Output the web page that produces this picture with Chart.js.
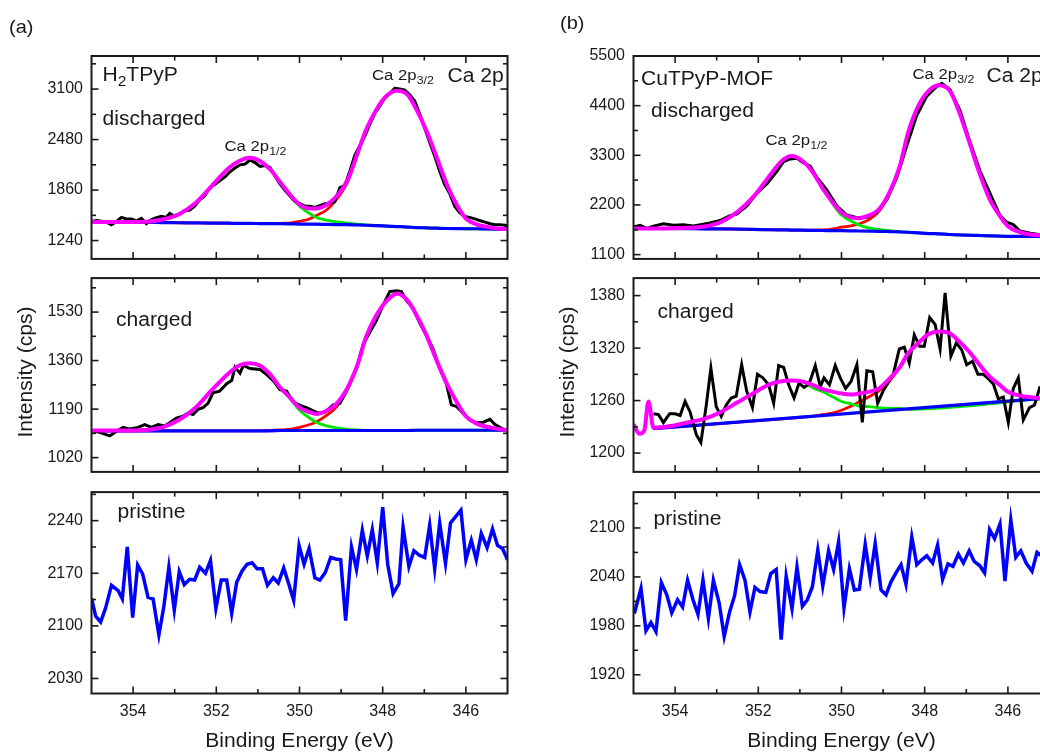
<!DOCTYPE html>
<html>
<head>
<meta charset="utf-8">
<script src="https://cdn.jsdelivr.net/npm/chart.js@4.4.0/dist/chart.umd.min.js"></script>
<style>
html, body { margin: 0; padding: 0; background: #fff; overflow: hidden; }
#fig { position: relative; width: 1040px; height: 753px; overflow: hidden; background: #fff; }
#fig canvas { position: absolute; }
</style>
</head>
<body>
<div id="fig"></div>
<script>
// ---- axis ticks ----
const xTicks = [354, 352, 350, 348, 346];
const xMinor = [353, 351, 349, 347];
const ltTicks = [1240, 1860, 2480, 3100];
const ltMinor = [1550, 2170, 2790, 3410];
const lmTicks = [1020, 1190, 1360, 1530];
const lmMinor = [1105, 1275, 1445, 1615];
const lbTicks = [2030, 2100, 2170, 2240];
const lbMinor = [2065, 2135, 2205, 2275];
const rtTicks = [1100, 2200, 3300, 4400, 5500];
const rtMinor = [1650, 2750, 3850, 4950];
const rmTicks = [1200, 1260, 1320, 1380];
const rmMinor = [1230, 1290, 1350];
const rbTicks = [1920, 1980, 2040, 2100];
const rbMinor = [1950, 2010, 2070, 2130];

// ---- energy grid for the fitted curves ----
const fitE = [355.0, 354.5, 353.7, 353.3, 352.9, 352.5, 352.1, 351.7, 351.45, 351.2, 350.95, 350.7, 350.45, 350.2, 350.0, 349.75, 349.6, 349.35, 349.1, 348.85, 348.6, 348.4, 348.15, 347.9, 347.65, 347.4, 347.2, 346.95, 346.7, 346.45, 346.2, 346.0, 345.75, 345.5, 345.25, 345.0];

// ---- (a) H2TPyP discharged ----
const ltFit = [1467, 1467, 1470, 1498, 1564, 1701, 1916, 2131, 2217, 2256, 2217, 2111, 1947, 1787, 1682, 1635, 1635, 1680, 1790, 1975, 2320, 2600, 2850, 3020, 3080, 3030, 2860, 2590, 2260, 1920, 1660, 1510, 1440, 1408, 1388, 1381];
const ltBg = [1467, 1465, 1463, 1461, 1459, 1457, 1455, 1453, 1451, 1451, 1449, 1447, 1447, 1445, 1443, 1443, 1441, 1439, 1437, 1435, 1431, 1428, 1424, 1418, 1412, 1406, 1400, 1396, 1392, 1388, 1386, 1385, 1385, 1383, 1381, 1381];
const ltP12 = [1467, 1467, 1470, 1498, 1564, 1701, 1916, 2131, 2217, 2256, 2217, 2111, 1947, 1779, 1662, 1570, 1525, 1490, 1470, 1455, 1443, 1431, 1424, 1418, 1412, 1406, 1400, 1396, 1392, 1388, 1386, 1385, 1385, 1383, 1381, 1381];
const ltP32 = [1467, 1465, 1463, 1461, 1459, 1457, 1455, 1453, 1451, 1451, 1450, 1449, 1452, 1458, 1475, 1508, 1547, 1615, 1752, 1955, 2308, 2600, 2850, 3020, 3080, 3030, 2860, 2590, 2260, 1920, 1660, 1510, 1440, 1408, 1388, 1381];
const ltRawE = [355.00, 354.88, 354.76, 354.64, 354.52, 354.40, 354.28, 354.16, 354.04, 353.92, 353.80, 353.68, 353.56, 353.44, 353.32, 353.20, 353.12, 353.00, 352.88, 352.76, 352.64, 352.52, 352.40, 352.28, 352.16, 352.04, 351.92, 351.79, 351.67, 351.55, 351.43, 351.31, 351.19, 351.07, 350.95, 350.83, 350.71, 350.59, 350.47, 350.35, 350.23, 350.11, 349.99, 349.87, 349.75, 349.63, 349.51, 349.39, 349.27, 349.15, 349.03, 348.91, 348.79, 348.67, 348.55, 348.43, 348.31, 348.19, 348.07, 347.95, 347.83, 347.71, 347.59, 347.47, 347.35, 347.23, 347.11, 346.99, 346.87, 346.75, 346.63, 346.51, 346.39, 346.27, 346.15, 346.03, 345.91, 345.79, 345.67, 345.54, 345.42, 345.30, 345.18, 345.06, 345.00];
const ltRaw = [1474, 1486, 1478, 1467, 1435, 1474, 1525, 1506, 1506, 1482, 1514, 1447, 1498, 1521, 1537, 1525, 1572, 1537, 1564, 1603, 1615, 1662, 1740, 1787, 1889, 1928, 1975, 2021, 2084, 2131, 2170, 2178, 2229, 2197, 2150, 2162, 2139, 2033, 1936, 1857, 1787, 1721, 1693, 1662, 1662, 1646, 1670, 1693, 1693, 1721, 1889, 1916, 2092, 2287, 2404, 2522, 2670, 2803, 2893, 2991, 3049, 3108, 3100, 3088, 3030, 2952, 2795, 2619, 2444, 2279, 2092, 1928, 1818, 1662, 1584, 1537, 1525, 1506, 1486, 1467, 1447, 1435, 1435, 1428, 1420];

// ---- (a) H2TPyP charged ----
const lmFit = [1115, 1115, 1117, 1126, 1152, 1195, 1258, 1316, 1343, 1351, 1343, 1311, 1263, 1226, 1195, 1179, 1173, 1184, 1210, 1263, 1348, 1443, 1520, 1570, 1595, 1570, 1523, 1449, 1359, 1277, 1210, 1165, 1140, 1128, 1121, 1116];
const lmBg = [1114, 1114, 1114, 1114, 1114, 1114, 1114, 1114, 1114, 1114, 1114, 1114, 1115, 1115, 1115, 1115, 1115, 1115, 1115, 1115, 1115, 1115, 1115, 1115, 1115, 1115, 1116, 1116, 1116, 1116, 1116, 1116, 1116, 1116, 1116, 1116];
const lmP12 = [1115, 1115, 1117, 1126, 1152, 1195, 1258, 1316, 1343, 1351, 1343, 1311, 1263, 1222, 1186, 1158, 1144, 1131, 1124, 1119, 1117, 1115, 1115, 1115, 1115, 1115, 1116, 1116, 1116, 1116, 1116, 1116, 1116, 1116, 1116, 1116];
const lmP32 = [1114, 1114, 1114, 1114, 1114, 1114, 1114, 1114, 1114, 1114, 1114, 1115, 1117, 1120, 1126, 1136, 1145, 1168, 1200, 1259, 1348, 1443, 1520, 1570, 1595, 1570, 1523, 1449, 1359, 1277, 1210, 1165, 1140, 1128, 1121, 1116];
const lmRawE = [355.00, 354.84, 354.56, 354.40, 354.24, 354.08, 353.88, 353.72, 353.56, 353.40, 353.24, 353.12, 352.96, 352.80, 352.68, 352.56, 352.44, 352.32, 352.20, 352.08, 351.92, 351.75, 351.63, 351.55, 351.43, 351.35, 351.19, 350.95, 350.79, 350.63, 350.47, 350.31, 350.15, 349.99, 349.83, 349.67, 349.55, 349.39, 349.19, 349.03, 348.91, 348.79, 348.63, 348.47, 348.31, 348.15, 347.99, 347.83, 347.67, 347.55, 347.43, 347.27, 347.11, 346.95, 346.79, 346.63, 346.47, 346.35, 346.23, 346.07, 345.91, 345.75, 345.58, 345.42, 345.30, 345.18, 345.00];
const lmRaw = [1115, 1110, 1096, 1112, 1126, 1120, 1126, 1136, 1126, 1136, 1131, 1142, 1158, 1165, 1176, 1171, 1189, 1195, 1210, 1247, 1253, 1279, 1290, 1337, 1316, 1343, 1332, 1329, 1311, 1290, 1258, 1253, 1216, 1203, 1195, 1184, 1176, 1179, 1205, 1210, 1242, 1279, 1332, 1417, 1459, 1501, 1554, 1602, 1605, 1602, 1570, 1544, 1491, 1449, 1401, 1332, 1279, 1205, 1200, 1176, 1152, 1142, 1144, 1154, 1136, 1126, 1112];

// ---- (a) H2TPyP pristine ----
const lbE = [355.00, 354.90, 354.78, 354.66, 354.52, 354.36, 354.26, 354.14, 354.01, 353.89, 353.77, 353.64, 353.52, 353.38, 353.26, 353.14, 353.01, 352.89, 352.77, 352.64, 352.52, 352.40, 352.26, 352.14, 352.01, 351.88, 351.75, 351.63, 351.51, 351.38, 351.26, 351.14, 351.02, 350.89, 350.77, 350.63, 350.51, 350.38, 350.26, 350.14, 350.01, 349.89, 349.77, 349.63, 349.51, 349.38, 349.25, 349.13, 349.01, 348.89, 348.75, 348.63, 348.49, 348.37, 348.25, 348.13, 348.00, 347.88, 347.75, 347.61, 347.51, 347.37, 347.25, 347.12, 346.99, 346.87, 346.75, 346.63, 346.49, 346.37, 346.12, 346.00, 345.87, 345.75, 345.63, 345.49, 345.36, 345.24, 345.12, 345.00];
const lb = [2137, 2113, 2105, 2124, 2154, 2147, 2136, 2205, 2111, 2181, 2169, 2138, 2136, 2088, 2126, 2178, 2121, 2172, 2155, 2162, 2161, 2178, 2170, 2187, 2123, 2161, 2161, 2117, 2158, 2173, 2182, 2184, 2176, 2176, 2154, 2164, 2157, 2177, 2156, 2134, 2207, 2182, 2203, 2164, 2161, 2171, 2191, 2189, 2188, 2107, 2205, 2175, 2227, 2193, 2228, 2184, 2258, 2182, 2143, 2156, 2231, 2179, 2200, 2194, 2191, 2234, 2176, 2237, 2183, 2237, 2254, 2188, 2214, 2188, 2223, 2204, 2229, 2207, 2203, 2188];

// ---- (b) CuTPyP-MOF discharged ----
const rtFit = [1679, 1679, 1694, 1722, 1821, 2047, 2400, 2881, 3163, 3284, 3185, 2937, 2563, 2245, 2033, 1920, 1905, 1962, 2103, 2471, 3057, 3799, 4400, 4732, 4852, 4732, 4329, 3658, 2951, 2351, 1962, 1729, 1609, 1552, 1531, 1517];
const rtBg = [1679, 1679, 1676, 1672, 1672, 1665, 1658, 1651, 1648, 1644, 1641, 1637, 1634, 1630, 1630, 1626, 1623, 1619, 1616, 1609, 1602, 1595, 1581, 1567, 1559, 1545, 1538, 1531, 1524, 1517, 1510, 1506, 1503, 1503, 1503, 1503];
const rtP12 = [1679, 1679, 1694, 1722, 1821, 2047, 2400, 2881, 3163, 3284, 3185, 2937, 2563, 2209, 1976, 1835, 1764, 1694, 1658, 1630, 1609, 1595, 1581, 1567, 1559, 1545, 1538, 1531, 1524, 1517, 1510, 1506, 1503, 1503, 1503, 1503];
const rtP32 = [1679, 1679, 1676, 1672, 1672, 1665, 1658, 1651, 1648, 1644, 1641, 1640, 1645, 1670, 1707, 1740, 1775, 1870, 2055, 2450, 3057, 3799, 4400, 4732, 4852, 4732, 4329, 3658, 2951, 2351, 1962, 1729, 1609, 1552, 1531, 1517];
const rtRawE = [355.00, 354.84, 354.68, 354.52, 354.28, 354.04, 353.80, 353.56, 353.32, 353.16, 352.92, 352.68, 352.52, 352.28, 352.04, 351.79, 351.55, 351.39, 351.23, 351.07, 350.91, 350.75, 350.59, 350.35, 350.11, 349.87, 349.63, 349.39, 349.15, 348.91, 348.67, 348.43, 348.19, 347.95, 347.71, 347.59, 347.39, 347.15, 346.91, 346.67, 346.43, 346.19, 346.03, 345.87, 345.71, 345.46, 345.22, 345.00];
const rtRaw = [1715, 1750, 1679, 1729, 1785, 1750, 1764, 1736, 1771, 1800, 1856, 1962, 1997, 2174, 2457, 2669, 2951, 3163, 3220, 3234, 3128, 3057, 2810, 2527, 2174, 1976, 1920, 1927, 2033, 2315, 2810, 3517, 4188, 4612, 4824, 4895, 4753, 4294, 3587, 2951, 2457, 1962, 1821, 1764, 1623, 1573, 1538, 1531];

// ---- (b) CuTPyP-MOF charged ----
const rmFitE = [355.00, 354.86, 354.74, 354.64, 354.52, 354.1, 353.7, 353.3, 352.9, 352.5, 352.1, 351.7, 351.45, 351.2, 350.95, 350.7, 350.45, 350.2, 350.0, 349.75, 349.6, 349.35, 349.1, 348.85, 348.6, 348.4, 348.15, 347.9, 347.65, 347.4, 347.2, 346.95, 346.7, 346.45, 346.2, 346.0, 345.75, 345.5, 345.25, 345.0];
const rmFit = [1233, 1222, 1226, 1259, 1229, 1231, 1235, 1239, 1247, 1258, 1269, 1279, 1282, 1283, 1282, 1278, 1273, 1270, 1268, 1267, 1268, 1270, 1274, 1285, 1298, 1314, 1326, 1336, 1339, 1337, 1329, 1317, 1302, 1288, 1278, 1270, 1266, 1264, 1263, 1262];
const rmBgE = [354.52, 345.0];
const rmBg = [1228, 1263];
const rmP12E = [354.52, 354.1, 353.7, 353.3, 352.9, 352.5, 352.1, 351.7, 351.45, 351.2, 350.95, 350.7, 350.45, 350.2, 350.0, 349.75, 349.6, 349.35, 349.1, 348.85, 348.6, 348.4, 345.0];
const rmP12 = [1229, 1231, 1235, 1239, 1247, 1258, 1269, 1279, 1282, 1283, 1282, 1275, 1270, 1264, 1259, 1256, 1254, 1253, 1252, 1251, 1251, 1250, 1263];
const rmP32E = [354.52, 351.2, 350.95, 350.7, 350.45, 350.2, 350.0, 349.75, 349.6, 349.35, 349.1, 348.85, 348.6, 348.4, 348.15, 347.9, 347.65, 347.4, 347.2, 346.95, 346.7, 346.45, 346.2, 346.0, 345.75, 345.5, 345.25, 345.0];
const rmP32 = [1228, 1240, 1241, 1242, 1244, 1246, 1249, 1254, 1258, 1264, 1271, 1282, 1298, 1314, 1326, 1336, 1339, 1337, 1329, 1317, 1302, 1288, 1278, 1270, 1266, 1264, 1263, 1263];
const rmRawE = [354.52, 354.40, 354.28, 354.13, 354.00, 353.88, 353.76, 353.64, 353.49, 353.38, 353.25, 353.14, 353.01, 352.89, 352.77, 352.65, 352.53, 352.40, 352.28, 352.14, 352.02, 351.89, 351.75, 351.63, 351.51, 351.39, 351.27, 351.14, 351.02, 350.90, 350.78, 350.63, 350.51, 350.42, 350.29, 350.15, 350.03, 349.90, 349.77, 349.63, 349.50, 349.39, 349.25, 349.13, 348.99, 348.87, 348.75, 348.61, 348.49, 348.37, 348.25, 348.12, 348.01, 347.88, 347.75, 347.63, 347.51, 347.37, 347.24, 347.11, 346.99, 346.85, 346.72, 346.59, 346.47, 346.35, 346.23, 346.11, 345.99, 345.87, 345.75, 345.63, 345.48, 345.36, 345.24, 345.12, 345.00];
const rmRaw = [1245, 1244, 1235, 1245, 1245, 1243, 1259, 1247, 1221, 1212, 1255, 1297, 1253, 1242, 1255, 1263, 1265, 1301, 1271, 1252, 1290, 1286, 1278, 1257, 1300, 1298, 1278, 1263, 1280, 1275, 1279, 1300, 1276, 1286, 1278, 1300, 1286, 1274, 1282, 1301, 1235, 1294, 1293, 1257, 1272, 1281, 1291, 1319, 1321, 1303, 1335, 1322, 1322, 1355, 1347, 1319, 1383, 1311, 1326, 1318, 1301, 1305, 1290, 1290, 1285, 1279, 1262, 1264, 1235, 1274, 1286, 1238, 1252, 1255, 1274, 1268, 1262];

// ---- (b) CuTPyP-MOF pristine ----
const rbE = [354.98, 354.82, 354.70, 354.58, 354.46, 354.33, 354.20, 354.08, 353.94, 353.82, 353.70, 353.57, 353.45, 353.33, 353.20, 353.08, 352.94, 352.82, 352.69, 352.57, 352.45, 352.32, 352.20, 352.08, 351.96, 351.82, 351.70, 351.57, 351.45, 351.33, 351.19, 351.07, 350.94, 350.82, 350.70, 350.57, 350.45, 350.31, 350.19, 350.07, 349.94, 349.81, 349.69, 349.57, 349.43, 349.31, 349.19, 349.05, 348.93, 348.81, 348.69, 348.57, 348.45, 348.31, 348.19, 348.07, 347.95, 347.81, 347.69, 347.57, 347.44, 347.32, 347.19, 347.07, 346.93, 346.81, 346.68, 346.56, 346.44, 346.32, 346.19, 346.07, 345.93, 345.81, 345.69, 345.56, 345.42, 345.30, 345.22, 345.10, 345.00];
const rb = [1995, 2026, 1974, 1984, 1973, 2033, 2018, 1996, 2012, 2003, 2036, 2012, 1994, 2036, 1989, 2036, 2008, 1967, 1997, 2017, 2055, 2036, 1997, 2027, 2022, 2021, 2044, 2049, 1963, 2041, 2001, 2052, 2004, 2012, 2028, 2073, 2029, 2072, 2049, 2083, 2002, 2050, 2024, 2025, 2080, 2039, 2081, 2024, 2018, 2034, 2045, 2055, 2031, 2089, 2055, 2061, 2066, 2057, 2079, 2037, 2056, 2053, 2068, 2057, 2072, 2059, 2054, 2045, 2098, 2087, 2105, 2035, 2110, 2064, 2072, 2057, 2047, 2070, 2067, 2060, 2065];

// ---- styling ----
const FONT = '"Liberation Sans", Arial, Helvetica, sans-serif';
const INK = '#1a1a1a';
const MAGENTA = '#ff00ff';
const BLUE = '#0000ff';
const GREEN = '#00e600';
const RED = '#ff0000';
const STRETCH = 1.08;

function pts(E, V) {
    return E.map((e, i) => ({ x: e, y: V[i] }));
}

function line(E, V, color, width, smooth) {
    return {
        data: pts(E, V),
        borderColor: color,
        borderWidth: width,
        pointRadius: 0,
        fill: false,
        tension: 0,
        cubicInterpolationMode: smooth ? 'monotone' : 'default'
    };
}

// first dataset is drawn on top
function fitSet(fitX, fit, bgX, bg, p12X, p12, p32X, p32, rawX, raw) {
    return [
        line(fitX, fit, MAGENTA, 4, true),
        line(rawX, raw, '#000', 3, false),
        line(bgX, bg, BLUE, 3.2, true),
        line(p12X, p12, GREEN, 2.8, true),
        line(p32X, p32, RED, 2.8, true)
    ];
}

function sub(main, s) { return [[main], [s, 'sub']]; }

const COLS = [0, 542];
const ROWS = [
    { canvasTop: 0, height: 277, top: 56, bottom: 268.5, xh: 0 },
    { canvasTop: 260, height: 230, top: 268.5, bottom: 482.5, xh: 0 },
    { canvasTop: 474, height: 279, top: 482.5, bottom: 693.5, xh: 59.5 }
];

const panels = [
    { col: 0, row: 0, y: [1015, 3506], ticks: ltTicks, minor: ltMinor,
      datasets: fitSet(fitE, ltFit, fitE, ltBg, fitE, ltP12, fitE, ltP32, ltRawE, ltRaw),
      labels: [
          { parts: [['(a)']], x: 9, y: 33, size: 18.5 },
          { parts: [['H'], ['2', 'sub'], ['TPyP']], x: 102.5, y: 80.5, size: 19.5 },
          { parts: [['discharged']], x: 102.5, y: 125, size: 19.5 },
          { parts: sub('Ca 2p', '1/2'), x: 224.5, y: 150.5, size: 15.5 },
          { parts: sub('Ca 2p', '3/2'), x: 372, y: 79.5, size: 15.5 },
          { parts: [['Ca 2p']], x: 447.5, y: 82, size: 19.5 }
      ] },
    { col: 0, row: 1, y: [970, 1649], ticks: lmTicks, minor: lmMinor,
      datasets: fitSet(fitE, lmFit, fitE, lmBg, fitE, lmP12, fitE, lmP32, lmRawE, lmRaw),
      labels: [
          { parts: [['charged']], x: 116, y: 325.5, size: 19.5 },
          { parts: [['Intensity (cps)']], x: 32, y: 372, size: 19.5, rot: true, center: true }
      ] },
    { col: 0, row: 2, y: [2010, 2278], ticks: lbTicks, minor: lbMinor,
      datasets: [line(lbE, lb, BLUE, 3.5, false)],
      labels: [
          { parts: [['pristine']], x: 117.5, y: 518, size: 19.5 },
          { parts: [['Binding Energy (eV)']], x: 299.5, y: 746.5, size: 19.5, center: true }
      ] },
    { col: 1, row: 0, y: [1005, 5500], ticks: rtTicks, minor: rtMinor,
      datasets: fitSet(fitE, rtFit, fitE, rtBg, fitE, rtP12, fitE, rtP32, rtRawE, rtRaw),
      labels: [
          { parts: [['(b)']], x: 560, y: 28.5, size: 18.5 },
          { parts: [['CuTPyP-MOF']], x: 641, y: 85, size: 19.5 },
          { parts: [['discharged']], x: 651, y: 117, size: 19.5 },
          { parts: sub('Ca 2p', '1/2'), x: 765.5, y: 144.5, size: 15.5 },
          { parts: sub('Ca 2p', '3/2'), x: 912.5, y: 78.5, size: 15.5 },
          { parts: [['Ca 2p']], x: 986.5, y: 82, size: 19.5 }
      ] },
    { col: 1, row: 1, y: [1178.5, 1400], ticks: rmTicks, minor: rmMinor,
      datasets: fitSet(rmFitE, rmFit, rmBgE, rmBg, rmP12E, rmP12, rmP32E, rmP32, rmRawE, rmRaw),
      labels: [
          { parts: [['charged']], x: 657.5, y: 318, size: 19.5 },
          { parts: [['Intensity (cps)']], x: 574, y: 372, size: 19.5, rot: true, center: true }
      ] },
    { col: 1, row: 2, y: [1897, 2144], ticks: rbTicks, minor: rbMinor,
      datasets: [line(rbE, rb, BLUE, 3.5, false)],
      labels: [
          { parts: [['pristine']], x: 653.5, y: 524.5, size: 19.5 },
          { parts: [['Binding Energy (eV)']], x: 841.5, y: 746.5, size: 19.5, center: true }
      ] }
];

function drawLabel(ctx, l) {
    ctx.save();
    ctx.translate(l.x, l.y);
    if (l.rot) ctx.rotate(-Math.PI / 2);
    ctx.scale(STRETCH, 1);
    ctx.textAlign = 'left';
    ctx.textBaseline = 'alphabetic';
    let total = 0;
    const segs = l.parts.map(([t, kind]) => {
        const s = kind ? l.size * 0.74 : l.size;
        ctx.font = `${s}px ${FONT}`;
        const w = ctx.measureText(t).width;
        total += w;
        return { t, s, kind, w };
    });
    let cx = l.center ? -total / 2 : 0;
    for (const g of segs) {
        ctx.font = `${g.s}px ${FONT}`;
        ctx.fillText(g.t, cx, g.kind ? l.size * 0.3 : 0);
        cx += g.w;
    }
    ctx.restore();
}

function makeDecor(p, ox, oy) {
    return {
        id: 'decor',
        afterDraw(chart) {
            const { ctx, chartArea: a } = chart;
            const x = chart.scales.x, y = chart.scales.y;
            ctx.save();
            ctx.strokeStyle = INK;
            ctx.lineWidth = 1.6;
            const tick = (px, py, dx, dy) => {
                ctx.beginPath();
                ctx.moveTo(px, py);
                ctx.lineTo(px + dx, py + dy);
                ctx.stroke();
            };
            p.ticks.forEach(v => {
                const py = y.getPixelForValue(v);
                tick(a.left, py, 7, 0);
                tick(a.right, py, -7, 0);
            });
            p.minor.forEach(v => {
                const py = y.getPixelForValue(v);
                tick(a.left, py, 4.5, 0);
                tick(a.right, py, -4.5, 0);
            });
            xTicks.forEach(v => {
                const px = x.getPixelForValue(v);
                tick(px, a.bottom, 0, -7);
                tick(px, a.top, 0, 7);
            });
            xMinor.forEach(v => {
                const px = x.getPixelForValue(v);
                tick(px, a.bottom, 0, -4.5);
                tick(px, a.top, 0, 4.5);
            });
            ctx.lineWidth = 2;
            ctx.strokeRect(a.left, a.top, a.right - a.left, a.bottom - a.top);

            ctx.fillStyle = INK;
            ctx.translate(-ox, -oy);
            p.labels.forEach(l => drawLabel(ctx, l));
            ctx.restore();
        }
    };
}

const fig = document.getElementById('fig');

panels.forEach(p => {
    const r = ROWS[p.row];
    const left = COLS[p.col];
    const canvas = document.createElement('canvas');
    canvas.width = 514;
    canvas.height = r.height;
    canvas.style.left = left + 'px';
    canvas.style.top = r.canvasTop + 'px';
    canvas.style.width = '514px';
    canvas.style.height = r.height + 'px';
    fig.appendChild(canvas);

    const padTop = r.top - r.canvasTop;
    const padBottom = r.height - (r.bottom - r.canvasTop) - r.xh;

    new Chart(canvas.getContext('2d'), {
        type: 'line',
        data: { datasets: p.datasets },
        options: {
            responsive: false,
            animation: false,
            devicePixelRatio: 1,
            layout: { autoPadding: false, padding: { left: 0, right: 6.5, top: padTop, bottom: padBottom } },
            plugins: { legend: { display: false }, tooltip: { enabled: false } },
            scales: {
                x: {
                    type: 'linear',
                    reverse: true,
                    min: 345,
                    max: 355,
                    grid: { display: false, drawTicks: false },
                    border: { display: false },
                    ticks: {
                        display: r.xh > 0,
                        autoSkip: false,
                        maxRotation: 0,
                        padding: 8,
                        color: INK,
                        font: { family: FONT, size: 16 },
                        callback: v => String(v)
                    },
                    afterBuildTicks: s => { s.ticks = xTicks.map(v => ({ value: v })); },
                    afterFit: s => { s.height = r.xh; }
                },
                y: {
                    type: 'linear',
                    min: p.y[0],
                    max: p.y[1],
                    grid: { display: false, drawTicks: false },
                    border: { display: false },
                    ticks: {
                        autoSkip: false,
                        padding: 8.5,
                        color: INK,
                        font: { family: FONT, size: 16 },
                        callback: v => String(v)
                    },
                    afterBuildTicks: s => { s.ticks = p.ticks.map(v => ({ value: v })); },
                    afterFit: s => { s.width = 91.5; }
                }
            }
        },
        plugins: [makeDecor(p, left, r.canvasTop)]
    });
});
</script>
</body>
</html>
